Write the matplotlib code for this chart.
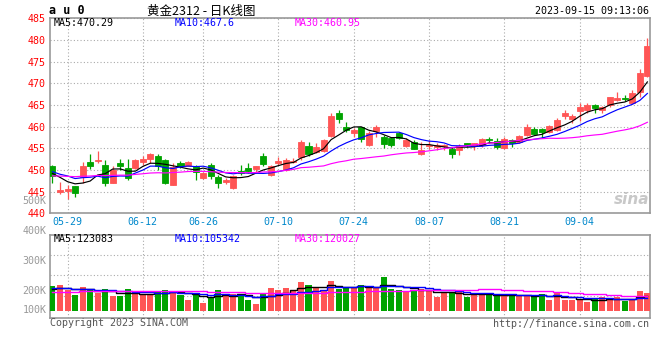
import numpy as np
import pandas as pd
import matplotlib
matplotlib.use('Agg')
import matplotlib.pyplot as plt

# au2312 daily candles, 2023-05-25 .. 2023-09-15 (80 trading days)
opens = [450.8, 444.9, 445.1, 446.3, 448.3, 451.8, 452.0, 451.2, 447.1, 451.7,
         450.4, 450.5, 451.9, 452.5, 453.2, 452.3, 446.5, 451.7, 451.0, 450.9,
         448.2, 451.2, 448.3, 447.2, 445.8, 449.8, 450.5, 450.3, 453.2, 448.8,
         451.5, 450.0, 451.8, 452.9, 455.5, 454.2, 454.4, 457.9, 463.1, 459.8,
         458.6, 459.8, 455.8, 459.1, 457.5, 457.3, 458.5, 455.5, 456.5, 453.7,
         455.5, 455.4, 455.5, 454.8, 454.5, 456.2, 455.5, 455.7, 457.1, 456.7,
         455.0, 456.9, 456.5, 458.1, 459.4, 459.4, 458.8, 459.2, 462.5, 461.8,
         463.6, 463.8, 465.0, 463.8, 465.0, 466.2, 466.6, 465.5, 468.1, 471.7]
highs = [451.2, 447.3, 446.5, 446.4, 451.8, 453.7, 454.4, 452.3, 450.9, 452.6,
         452.5, 452.5, 453.3, 453.8, 453.7, 452.5, 451.7, 452.1, 452.1, 451.1,
         449.6, 451.5, 448.8, 448.1, 448.8, 451.2, 451.5, 450.9, 454.0, 451.2,
         453.1, 452.8, 452.7, 456.8, 456.5, 456.3, 457.2, 463.1, 463.8, 461.1,
         459.7, 460.0, 459.1, 460.4, 458.1, 457.7, 458.8, 457.3, 456.9, 456.5,
         456.8, 456.2, 456.1, 455.4, 456.0, 456.3, 456.2, 457.3, 457.7, 457.3,
         457.7, 457.1, 458.0, 460.5, 459.8, 459.6, 460.4, 461.9, 463.8, 462.9,
         465.4, 465.5, 465.2, 464.8, 466.9, 468.1, 467.3, 468.5, 473.2, 480.5]
lows = [447.0, 444.5, 443.3, 443.8, 446.9, 450.3, 451.5, 446.4, 447.1, 450.0,
        447.7, 450.3, 451.2, 451.5, 450.0, 446.8, 446.5, 450.4, 450.8, 447.7,
        447.9, 447.9, 445.8, 446.7, 445.7, 448.8, 449.2, 449.5, 450.8, 448.5,
        451.2, 449.8, 451.5, 452.3, 453.2, 453.8, 454.2, 457.7, 460.9, 458.8,
        457.5, 456.5, 455.5, 457.5, 455.0, 455.4, 457.1, 455.3, 454.8, 453.5,
        454.8, 454.5, 454.7, 452.7, 453.5, 455.4, 454.6, 455.4, 456.2, 454.8,
        454.8, 455.4, 456.2, 457.9, 458.1, 457.3, 458.6, 459.0, 461.7, 460.8,
        461.4, 463.1, 463.2, 463.2, 464.5, 466.0, 465.8, 465.2, 466.9, 471.4]
closes = [448.5, 445.3, 445.6, 444.6, 450.9, 450.8, 452.3, 447.1, 450.0, 451.0,
          448.2, 452.3, 452.6, 453.7, 450.8, 447.1, 450.6, 451.0, 451.8, 449.6,
          449.2, 448.6, 446.9, 447.7, 448.6, 449.4, 449.8, 450.8, 451.4, 450.9,
          452.1, 452.3, 452.0, 456.5, 453.7, 455.4, 456.9, 462.5, 461.8, 459.2,
          459.2, 457.1, 458.6, 459.8, 456.0, 455.8, 457.3, 456.9, 454.8, 454.5,
          455.8, 455.8, 455.7, 453.6, 455.5, 455.7, 456.2, 457.2, 456.8, 455.4,
          457.2, 456.3, 457.8, 460.0, 458.3, 458.7, 460.2, 461.5, 463.2, 462.5,
          464.5, 465.0, 464.2, 464.5, 466.8, 466.5, 466.4, 467.8, 472.3, 478.6]
# volume, thousands of lots
volume_k = [203, 211, 170, 129, 194, 170, 143, 178, 123, 121,
            178, 143, 131, 131, 162, 170, 162, 131, 88, 148,
            63, 115, 170, 137, 137, 129, 88, 55, 145, 186,
            170, 186, 162, 235, 211, 194, 170, 244, 178, 184,
            197, 211, 184, 184, 276, 178, 170, 162, 162, 178,
            162, 112, 145, 156, 162, 112, 126, 137, 129, 137,
            121, 121, 121, 129, 121, 137, 88, 145, 88, 88,
            88, 71, 96, 110, 96, 115, 82, 96, 162, 145]
# estimated closes / volumes of the 29 sessions before the window (for the MA lines)
prior_closes = [447.0, 447.5, 446.8, 448.0, 449.2, 448.5, 447.6, 448.9, 449.5, 448.2,
                447.3, 447.9, 448.6, 449.0, 448.4, 447.8, 448.3, 447.5, 448.8, 448.7,
                451.2, 449.5, 450.6, 448.9, 449.8, 449.8, 450.6, 447.1, 450.0]
prior_volume_k = [120, 135, 140, 128, 150, 132, 138, 145, 126, 130,
                  142, 135, 148, 125, 139, 133, 144, 137, 141, 142,
                  210, 185, 205, 190, 195, 160, 175, 150, 187]

date_idx = [2, 12, 20, 30, 40, 50, 60, 70]
date_labels = ['05-29', '06-12', '06-26', '07-10', '07-24', '08-07', '08-21', '09-04']
price_ticks = list(range(440, 486, 5))

RED = '#FF5555'
GREEN = '#00A300'
GRID = '#AAAAAA'
BORDER = '#999999'
MONO = 'DejaVu Sans Mono'

n = len(closes)
x = np.arange(n)
o = np.array(opens); c = np.array(closes)
up = c >= o
colors = np.where(up, RED, GREEN)

allc = pd.Series(prior_closes + closes)
allv = pd.Series(prior_volume_k + volume_k) * 1000
np_ = len(prior_closes)
ma = {k: allc.rolling(k).mean().values[np_:] for k in (5, 10, 30)}
vma = {k: allv.rolling(k).mean().values[np_:] for k in (5, 10, 30)}
ma_col = {5: 'black', 10: '#0000FF', 30: '#FF00FF'}

W, H = 660, 360
fig = plt.figure(figsize=(6.6, 3.6), dpi=100)
ax = fig.add_axes([50 / W, 1 - 213.3 / H, 600 / W, 195 / H])
ax2 = fig.add_axes([50 / W, 1 - 318 / H, 600 / W, 83.3 / H])

xlim = (-0.33, 79.35)

# price panel
ax.vlines(x, lows, highs, colors=colors, lw=0.9, zorder=3)
ax.bar(x, c - o, bottom=o, width=0.8, color=colors, edgecolor=colors, lw=0.6, zorder=4)
for k in (5, 10, 30):
    ax.plot(x, ma[k], color=ma_col[k], lw=0.85, zorder=5)
ax.set_xlim(*xlim)
ax.set_ylim(440, 485)
ax.set_yticks(price_ticks)
ax.set_yticklabels([str(t) for t in price_ticks], color='red', fontsize=7.2, family=MONO)
ax.set_xticks(date_idx)
ax.set_xticklabels(date_labels, color='#0088CC', fontsize=7.2, family=MONO)
ax.tick_params(length=0, pad=3)
ax.grid(True, color=GRID, ls=(0, (1, 2)), lw=0.8)
ax.set_axisbelow(True)
for s in ax.spines.values():
    s.set_color(BORDER); s.set_linewidth(1.2)

# volume panel
vol = np.array(volume_k) * 1000
ax2.bar(x, vol, width=0.8, color=colors, zorder=3)
for k in (5, 10, 30):
    ax2.plot(x, vma[k], color=ma_col[k], lw=1, drawstyle='steps-mid', zorder=4)
vol_top, vol_step = 623000, 166500
ax2.set_xlim(*xlim)
ax2.set_ylim(-60000, vol_top)
ax2.set_yticks([vol_top - k * vol_step for k in (1, 2, 3)])
ax2.set_yticklabels([])
ax2.set_xticks(date_idx)
ax2.set_xticklabels([])
ax2.tick_params(length=0)
ax2.grid(True, color=GRID, ls=(0, (1, 2)), lw=0.8)
ax2.set_axisbelow(True)
for s in ax2.spines.values():
    s.set_color(BORDER); s.set_linewidth(1.2)

def ftxt(px, py, s, **kw):
    kw.setdefault('family', MONO)
    kw.setdefault('fontsize', 7.2)
    fig.text(px / W, 1 - py / H, s, va='center', **kw)

# header
ftxt(49, 11, 'a u 0', fontweight='bold', fontsize=8.5)
ftxt(201, 11, '黄金2312 - 日K线图', ha='center', fontsize=9,
     family=['Noto Sans CJK SC', 'DejaVu Sans'])
ftxt(649, 11, '2023-09-15 09:13:06', ha='right')

ftxt(54, 23.5, 'MA5:470.29', color='black')
ftxt(175, 23.5, 'MA10:467.6', color='#0000FF')
ftxt(295, 23.5, 'MA30:460.95', color='#FF00FF')
ftxt(54, 238.5, 'MA5:123083', color='black')
ftxt(175, 238.5, 'MA10:105342', color='#0000FF')
ftxt(295, 238.5, 'MA30:120027', color='#FF00FF')

for lab, py in [('500K', 201.5), ('400K', 230.7), ('300K', 260.7), ('200K', 290.7), ('100K', 310)]:
    ftxt(46.5, py, lab, ha='right', color='#999999')

ftxt(50, 323.5, 'Copyright 2023 SINA.COM', color='#555555')
ftxt(649, 324, 'http://finance.sina.com.cn', ha='right', color='#555555')
ftxt(632, 200, 'sina', ha='center', color='#C8C8C8', family='DejaVu Sans',
     fontsize=11, fontweight='bold', style='italic')

fig.savefig('out.png', dpi=100)
